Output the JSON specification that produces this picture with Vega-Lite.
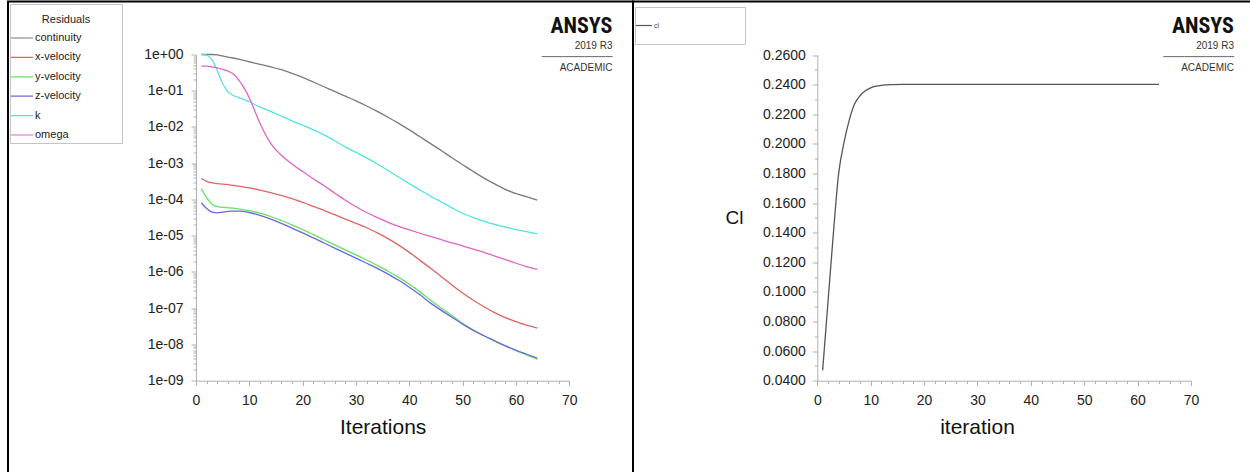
{
  "$schema": "https://vega.github.io/schema/vega-lite/v6.json",
  "autosize": {"type": "none"},
  "padding": {"left": 8, "top": 1.5, "right": 1242, "bottom": 470.5},
  "background": "white",
  "usermeta": {"embedOptions": {"actions": false}},
  "spacing": 0,
  "bounds": "flush",
  "resolve": {"scale": {"x": "independent", "y": "independent", "color": "independent"}, "legend": {"color": "independent"}, "axis": {"x": "independent", "y": "independent"}},
  "config": {
    "font": "Liberation Sans",
    "view": {"stroke": "black", "strokeWidth": 2},
    "axis": {"grid": false, "domainColor": "#b0b0b0", "tickColor": "#b0b0b0", "domainWidth": 1, "tickWidth": 1, "labelColor": "#222222", "labelFontSize": 14, "labelFont": "Liberation Sans", "titleFont": "Liberation Sans", "titleColor": "#111111", "titleFontWeight": "normal", "labelOverlap": false, "labelFlush": false, "labelBound": false},
    "legend": {"titleFont": "Liberation Sans", "labelFont": "Liberation Sans"},
    "title": {"anchor": "end", "frame": "group", "align": "right", "orient": "top", "offset": -72, "font": "Liberation Sans Narrow, Roboto Condensed, Liberation Sans", "fontSize": 22, "fontWeight": "bold", "color": "#111111", "subtitleFont": "Liberation Sans", "subtitleFontSize": 10, "subtitleLineHeight": 11, "subtitlePadding": 0, "subtitleColor": "#333333"}
  },
  "datasets": {
    "residuals": [
      {"iter": 1, "series": "continuity", "value": 1}, {"iter": 2, "series": "continuity", "value": 1}, {"iter": 3, "series": "continuity", "value": 1}, {"iter": 4, "series": "continuity", "value": 0.977}, {"iter": 5, "series": "continuity", "value": 0.912}, {"iter": 6, "series": "continuity", "value": 0.851}, {"iter": 8, "series": "continuity", "value": 0.741}, {"iter": 10, "series": "continuity", "value": 0.631}, {"iter": 12, "series": "continuity", "value": 0.537}, {"iter": 14, "series": "continuity", "value": 0.457}, {"iter": 16, "series": "continuity", "value": 0.38}, {"iter": 18, "series": "continuity", "value": 0.302}, {"iter": 20, "series": "continuity", "value": 0.234}, {"iter": 22, "series": "continuity", "value": 0.174}, {"iter": 24, "series": "continuity", "value": 0.129}, {"iter": 26, "series": "continuity", "value": 0.0955}, {"iter": 28, "series": "continuity", "value": 0.0708}, {"iter": 30, "series": "continuity", "value": 0.0525}, {"iter": 32, "series": "continuity", "value": 0.038}, {"iter": 34, "series": "continuity", "value": 0.0269}, {"iter": 36, "series": "continuity", "value": 0.0186}, {"iter": 38, "series": "continuity", "value": 0.0126}, {"iter": 40, "series": "continuity", "value": 0.00832}, {"iter": 42, "series": "continuity", "value": 0.00537}, {"iter": 44, "series": "continuity", "value": 0.00347}, {"iter": 46, "series": "continuity", "value": 0.00224}, {"iter": 48, "series": "continuity", "value": 0.00141}, {"iter": 50, "series": "continuity", "value": 9.12e-4}, {"iter": 52, "series": "continuity", "value": 5.89e-4}, {"iter": 54, "series": "continuity", "value": 3.89e-4}, {"iter": 56, "series": "continuity", "value": 2.69e-4}, {"iter": 58, "series": "continuity", "value": 1.91e-4}, {"iter": 60, "series": "continuity", "value": 1.45e-4}, {"iter": 62, "series": "continuity", "value": 1.2e-4}, {"iter": 64, "series": "continuity", "value": 9.55e-5},

      {"iter": 1, "series": "x-velocity", "value": 3.8e-4}, {"iter": 2, "series": "x-velocity", "value": 3.16e-4}, {"iter": 3, "series": "x-velocity", "value": 2.88e-4}, {"iter": 4, "series": "x-velocity", "value": 2.75e-4}, {"iter": 6, "series": "x-velocity", "value": 2.57e-4}, {"iter": 8, "series": "x-velocity", "value": 2.34e-4}, {"iter": 10, "series": "x-velocity", "value": 2.09e-4}, {"iter": 12, "series": "x-velocity", "value": 1.82e-4}, {"iter": 14, "series": "x-velocity", "value": 1.55e-4}, {"iter": 16, "series": "x-velocity", "value": 1.29e-4}, {"iter": 18, "series": "x-velocity", "value": 1.05e-4}, {"iter": 20, "series": "x-velocity", "value": 8.32e-5}, {"iter": 22, "series": "x-velocity", "value": 6.46e-5}, {"iter": 24, "series": "x-velocity", "value": 5.01e-5}, {"iter": 26, "series": "x-velocity", "value": 3.8e-5}, {"iter": 28, "series": "x-velocity", "value": 2.88e-5}, {"iter": 30, "series": "x-velocity", "value": 2.19e-5}, {"iter": 32, "series": "x-velocity", "value": 1.66e-5}, {"iter": 34, "series": "x-velocity", "value": 1.2e-5}, {"iter": 36, "series": "x-velocity", "value": 8.32e-6}, {"iter": 38, "series": "x-velocity", "value": 5.5e-6}, {"iter": 40, "series": "x-velocity", "value": 3.47e-6}, {"iter": 42, "series": "x-velocity", "value": 2.09e-6}, {"iter": 44, "series": "x-velocity", "value": 1.26e-6}, {"iter": 46, "series": "x-velocity", "value": 7.41e-7}, {"iter": 48, "series": "x-velocity", "value": 4.37e-7}, {"iter": 50, "series": "x-velocity", "value": 2.63e-7}, {"iter": 52, "series": "x-velocity", "value": 1.66e-7}, {"iter": 54, "series": "x-velocity", "value": 1.1e-7}, {"iter": 56, "series": "x-velocity", "value": 7.59e-8}, {"iter": 58, "series": "x-velocity", "value": 5.5e-8}, {"iter": 60, "series": "x-velocity", "value": 4.27e-8}, {"iter": 62, "series": "x-velocity", "value": 3.39e-8}, {"iter": 64, "series": "x-velocity", "value": 2.82e-8},

      {"iter": 1, "series": "y-velocity", "value": 2.0e-4}, {"iter": 2, "series": "y-velocity", "value": 1.12e-4}, {"iter": 3, "series": "y-velocity", "value": 7.41e-5}, {"iter": 4, "series": "y-velocity", "value": 6.31e-5}, {"iter": 5, "series": "y-velocity", "value": 6.03e-5}, {"iter": 6, "series": "y-velocity", "value": 5.89e-5}, {"iter": 7, "series": "y-velocity", "value": 5.75e-5}, {"iter": 8, "series": "y-velocity", "value": 5.5e-5}, {"iter": 10, "series": "y-velocity", "value": 4.9e-5}, {"iter": 12, "series": "y-velocity", "value": 4.17e-5}, {"iter": 14, "series": "y-velocity", "value": 3.39e-5}, {"iter": 16, "series": "y-velocity", "value": 2.63e-5}, {"iter": 18, "series": "y-velocity", "value": 2.0e-5}, {"iter": 20, "series": "y-velocity", "value": 1.48e-5}, {"iter": 22, "series": "y-velocity", "value": 1.07e-5}, {"iter": 24, "series": "y-velocity", "value": 7.76e-6}, {"iter": 26, "series": "y-velocity", "value": 5.62e-6}, {"iter": 28, "series": "y-velocity", "value": 4.07e-6}, {"iter": 30, "series": "y-velocity", "value": 2.95e-6}, {"iter": 32, "series": "y-velocity", "value": 2.14e-6}, {"iter": 34, "series": "y-velocity", "value": 1.51e-6}, {"iter": 36, "series": "y-velocity", "value": 1.05e-6}, {"iter": 38, "series": "y-velocity", "value": 7.08e-7}, {"iter": 40, "series": "y-velocity", "value": 4.57e-7}, {"iter": 42, "series": "y-velocity", "value": 2.82e-7}, {"iter": 44, "series": "y-velocity", "value": 1.66e-7}, {"iter": 46, "series": "y-velocity", "value": 1.0e-7}, {"iter": 48, "series": "y-velocity", "value": 6.31e-8}, {"iter": 50, "series": "y-velocity", "value": 3.8e-8}, {"iter": 52, "series": "y-velocity", "value": 2.51e-8}, {"iter": 54, "series": "y-velocity", "value": 1.74e-8}, {"iter": 56, "series": "y-velocity", "value": 1.26e-8}, {"iter": 58, "series": "y-velocity", "value": 9.12e-9}, {"iter": 60, "series": "y-velocity", "value": 6.76e-9}, {"iter": 62, "series": "y-velocity", "value": 5.13e-9}, {"iter": 64, "series": "y-velocity", "value": 3.89e-9},

      {"iter": 1, "series": "z-velocity", "value": 8.13e-5}, {"iter": 2, "series": "z-velocity", "value": 5.62e-5}, {"iter": 3, "series": "z-velocity", "value": 4.47e-5}, {"iter": 4, "series": "z-velocity", "value": 4.27e-5}, {"iter": 5, "series": "z-velocity", "value": 4.47e-5}, {"iter": 6, "series": "z-velocity", "value": 4.68e-5}, {"iter": 7, "series": "z-velocity", "value": 4.79e-5}, {"iter": 8, "series": "z-velocity", "value": 4.79e-5}, {"iter": 10, "series": "z-velocity", "value": 4.37e-5}, {"iter": 12, "series": "z-velocity", "value": 3.63e-5}, {"iter": 14, "series": "z-velocity", "value": 2.88e-5}, {"iter": 16, "series": "z-velocity", "value": 2.19e-5}, {"iter": 18, "series": "z-velocity", "value": 1.62e-5}, {"iter": 20, "series": "z-velocity", "value": 1.2e-5}, {"iter": 22, "series": "z-velocity", "value": 8.71e-6}, {"iter": 24, "series": "z-velocity", "value": 6.31e-6}, {"iter": 26, "series": "z-velocity", "value": 4.57e-6}, {"iter": 28, "series": "z-velocity", "value": 3.31e-6}, {"iter": 30, "series": "z-velocity", "value": 2.4e-6}, {"iter": 32, "series": "z-velocity", "value": 1.74e-6}, {"iter": 34, "series": "z-velocity", "value": 1.26e-6}, {"iter": 36, "series": "z-velocity", "value": 8.71e-7}, {"iter": 38, "series": "z-velocity", "value": 5.89e-7}, {"iter": 40, "series": "z-velocity", "value": 3.8e-7}, {"iter": 42, "series": "z-velocity", "value": 2.34e-7}, {"iter": 44, "series": "z-velocity", "value": 1.38e-7}, {"iter": 46, "series": "z-velocity", "value": 8.71e-8}, {"iter": 48, "series": "z-velocity", "value": 5.62e-8}, {"iter": 50, "series": "z-velocity", "value": 3.63e-8}, {"iter": 52, "series": "z-velocity", "value": 2.45e-8}, {"iter": 54, "series": "z-velocity", "value": 1.74e-8}, {"iter": 56, "series": "z-velocity", "value": 1.26e-8}, {"iter": 58, "series": "z-velocity", "value": 9.12e-9}, {"iter": 60, "series": "z-velocity", "value": 6.92e-9}, {"iter": 62, "series": "z-velocity", "value": 5.37e-9}, {"iter": 64, "series": "z-velocity", "value": 4.17e-9},

      {"iter": 1, "series": "k", "value": 1}, {"iter": 2, "series": "k", "value": 0.955}, {"iter": 3, "series": "k", "value": 0.708}, {"iter": 4, "series": "k", "value": 0.355}, {"iter": 5, "series": "k", "value": 0.158}, {"iter": 6, "series": "k", "value": 0.0933}, {"iter": 7, "series": "k", "value": 0.0741}, {"iter": 8, "series": "k", "value": 0.0646}, {"iter": 9, "series": "k", "value": 0.0575}, {"iter": 10, "series": "k", "value": 0.0501}, {"iter": 11, "series": "k", "value": 0.0417}, {"iter": 12, "series": "k", "value": 0.0355}, {"iter": 14, "series": "k", "value": 0.0269}, {"iter": 16, "series": "k", "value": 0.02}, {"iter": 18, "series": "k", "value": 0.0148}, {"iter": 20, "series": "k", "value": 0.0112}, {"iter": 22, "series": "k", "value": 0.00832}, {"iter": 24, "series": "k", "value": 0.00603}, {"iter": 26, "series": "k", "value": 0.00417}, {"iter": 28, "series": "k", "value": 0.00282}, {"iter": 30, "series": "k", "value": 0.002}, {"iter": 32, "series": "k", "value": 0.00141}, {"iter": 34, "series": "k", "value": 9.55e-4}, {"iter": 36, "series": "k", "value": 6.31e-4}, {"iter": 38, "series": "k", "value": 4.17e-4}, {"iter": 40, "series": "k", "value": 2.75e-4}, {"iter": 42, "series": "k", "value": 1.82e-4}, {"iter": 44, "series": "k", "value": 1.23e-4}, {"iter": 46, "series": "k", "value": 8.51e-5}, {"iter": 48, "series": "k", "value": 5.89e-5}, {"iter": 50, "series": "k", "value": 4.17e-5}, {"iter": 52, "series": "k", "value": 3.16e-5}, {"iter": 54, "series": "k", "value": 2.51e-5}, {"iter": 56, "series": "k", "value": 2.04e-5}, {"iter": 58, "series": "k", "value": 1.74e-5}, {"iter": 60, "series": "k", "value": 1.48e-5}, {"iter": 62, "series": "k", "value": 1.29e-5}, {"iter": 64, "series": "k", "value": 1.12e-5},

      {"iter": 1, "series": "omega", "value": 0.479}, {"iter": 2, "series": "omega", "value": 0.479}, {"iter": 3, "series": "omega", "value": 0.457}, {"iter": 4, "series": "omega", "value": 0.427}, {"iter": 5, "series": "omega", "value": 0.389}, {"iter": 6, "series": "omega", "value": 0.347}, {"iter": 7, "series": "omega", "value": 0.288}, {"iter": 8, "series": "omega", "value": 0.2}, {"iter": 9, "series": "omega", "value": 0.12}, {"iter": 10, "series": "omega", "value": 0.0631}, {"iter": 11, "series": "omega", "value": 0.0282}, {"iter": 12, "series": "omega", "value": 0.0126}, {"iter": 13, "series": "omega", "value": 0.00631}, {"iter": 14, "series": "omega", "value": 0.00355}, {"iter": 15, "series": "omega", "value": 0.00234}, {"iter": 16, "series": "omega", "value": 0.00166}, {"iter": 18, "series": "omega", "value": 9.55e-4}, {"iter": 20, "series": "omega", "value": 5.89e-4}, {"iter": 22, "series": "omega", "value": 3.72e-4}, {"iter": 24, "series": "omega", "value": 2.4e-4}, {"iter": 26, "series": "omega", "value": 1.51e-4}, {"iter": 28, "series": "omega", "value": 9.55e-5}, {"iter": 30, "series": "omega", "value": 6.31e-5}, {"iter": 32, "series": "omega", "value": 4.37e-5}, {"iter": 34, "series": "omega", "value": 3.16e-5}, {"iter": 36, "series": "omega", "value": 2.34e-5}, {"iter": 38, "series": "omega", "value": 1.82e-5}, {"iter": 40, "series": "omega", "value": 1.45e-5}, {"iter": 42, "series": "omega", "value": 1.17e-5}, {"iter": 44, "series": "omega", "value": 9.55e-6}, {"iter": 46, "series": "omega", "value": 7.76e-6}, {"iter": 48, "series": "omega", "value": 6.31e-6}, {"iter": 50, "series": "omega", "value": 5.25e-6}, {"iter": 52, "series": "omega", "value": 4.27e-6}, {"iter": 54, "series": "omega", "value": 3.47e-6}, {"iter": 56, "series": "omega", "value": 2.75e-6}, {"iter": 58, "series": "omega", "value": 2.19e-6}, {"iter": 60, "series": "omega", "value": 1.74e-6}, {"iter": 62, "series": "omega", "value": 1.41e-6}, {"iter": 64, "series": "omega", "value": 1.17e-6}
    ],
    "lift": [
      {"iter": 1, "series": "cl", "value": 0.047}, {"iter": 2, "series": "cl", "value": 0.093}, {"iter": 3, "series": "cl", "value": 0.139}, {"iter": 4, "series": "cl", "value": 0.18}, {"iter": 5, "series": "cl", "value": 0.2008}, {"iter": 6, "series": "cl", "value": 0.2162}, {"iter": 7, "series": "cl", "value": 0.227}, {"iter": 8, "series": "cl", "value": 0.2325}, {"iter": 9, "series": "cl", "value": 0.2358}, {"iter": 10, "series": "cl", "value": 0.2378}, {"iter": 11, "series": "cl", "value": 0.2389}, {"iter": 12, "series": "cl", "value": 0.2395}, {"iter": 13, "series": "cl", "value": 0.2398}, {"iter": 14, "series": "cl", "value": 0.24}, {"iter": 16, "series": "cl", "value": 0.2401}, {"iter": 20, "series": "cl", "value": 0.2401}, {"iter": 24, "series": "cl", "value": 0.2401}, {"iter": 28, "series": "cl", "value": 0.2401}, {"iter": 32, "series": "cl", "value": 0.2401}, {"iter": 36, "series": "cl", "value": 0.2401}, {"iter": 40, "series": "cl", "value": 0.2401}, {"iter": 44, "series": "cl", "value": 0.2401}, {"iter": 48, "series": "cl", "value": 0.2401}, {"iter": 52, "series": "cl", "value": 0.2401}, {"iter": 56, "series": "cl", "value": 0.2401}, {"iter": 60, "series": "cl", "value": 0.2401}, {"iter": 64, "series": "cl", "value": 0.2401}
    ]
  },
  "hconcat": [
    {
      "width": 625,
      "height": 480,
      "title": {"text": "ANSYS", "subtitle": ["2019 R3", "──────────", "ACADEMIC"], "dx": -20.5},
      "data": {"name": "residuals"},
      "mark": {"type": "line", "strokeWidth": 1.3, "interpolate": "monotone"},
      "encoding": {
        "x": {
          "field": "iter", "type": "quantitative",
          "scale": {"domain": [0, 70], "range": [188, 561.3], "nice": false, "zero": false},
          "axis": {
            "values": [0, 2, 4, 6, 8, 10, 12, 14, 16, 18, 20, 22, 24, 26, 28, 30, 32, 34, 36, 38, 40, 42, 44, 46, 48, 50, 52, 54, 56, 58, 60, 62, 64, 66, 68, 70],
            "format": "d",
            "labelExpr": "datum.value % 10 === 0 ? datum.label : ''",
            "tickSize": {"condition": {"test": "datum.value % 10 === 0", "value": 5}, "value": 3},
            "offset": -100.8,
            "labelPadding": 8,
            "title": "Iterations",
            "titleFontSize": 21,
            "titleY": 47,
            "titleBaseline": "middle"
          }
        },
        "y": {
          "field": "value", "type": "quantitative",
          "scale": {"type": "log", "domain": [1e-9, 1], "range": [379.2, 53], "nice": false},
          "axis": {
            "values": [1e-9, 2e-9, 3e-9, 4e-9, 5e-9, 6e-9, 7e-9, 8e-9, 9e-9, 1e-8, 2e-8, 3e-8, 4e-8, 5e-8, 6e-8, 7e-8, 8e-8, 9e-8, 1e-7, 2e-7, 3e-7, 4e-7, 5e-7, 6e-7, 7e-7, 8e-7, 9e-7, 1e-6, 2e-6, 3e-6, 4e-6, 5e-6, 6e-6, 7e-6, 8e-6, 9e-6, 1e-5, 2e-5, 3e-5, 4e-5, 5e-5, 6e-5, 7e-5, 8e-5, 9e-5, 1e-4, 2e-4, 3e-4, 4e-4, 5e-4, 6e-4, 7e-4, 8e-4, 9e-4, 1e-3, 2e-3, 3e-3, 4e-3, 5e-3, 6e-3, 7e-3, 8e-3, 9e-3, 0.01, 0.02, 0.03, 0.04, 0.05, 0.06, 0.07, 0.08, 0.09, 0.1, 0.2, 0.3, 0.4, 0.5, 0.6, 0.7, 0.8, 0.9, 1],
            "labelExpr": "abs(log(datum.value)/LN10 - round(log(datum.value)/LN10)) < 0.01 ? (datum.value > 0.5 ? '1e+00' : '1e-0' + (-round(log(datum.value)/LN10))) : ''",
            "tickSize": {"condition": {"test": "abs(log(datum.value)/LN10 - round(log(datum.value)/LN10)) < 0.01", "value": 5}, "value": 3},
            "offset": -188,
            "labelPadding": 8,
            "title": null
          }
        },
        "color": {
          "field": "series", "type": "nominal",
          "scale": {"domain": ["continuity", "x-velocity", "y-velocity", "z-velocity", "k", "omega"], "range": ["#7a7a7a", "#e06464", "#66e066", "#6868e0", "#55e2e2", "#e064c8"]},
          "legend": {
            "orient": "none", "legendX": 2, "legendY": 2.5,
            "title": "Residuals", "titleFontSize": 11, "titleFontWeight": "normal", "titleColor": "#222222", "titleAnchor": "middle", "titleBaseline": "line-top", "titleLineHeight": 31.6, "titlePadding": 15,
            "padding": 0, "strokeColor": "#c4c4c4", "fillColor": "white",
            "symbolType": "stroke", "symbolSize": 484, "symbolStrokeWidth": 1.2,
            "labelFontSize": 11, "labelColor": "#222222", "labelOffset": 1,
            "labelExpr": "datum.label + '\u2800\u2800\u2800\u2800\u2800'",
            "clipHeight": 16, "rowPadding": 3.4
          }
        }
      }
    },
    {
      "width": 625,
      "height": 480,
      "title": {"text": "ANSYS", "subtitle": ["2019 R3", "──────────", "ACADEMIC"], "dx": -24},
      "data": {"name": "lift"},
      "mark": {"type": "line", "strokeWidth": 1.3, "interpolate": "monotone"},
      "encoding": {
        "x": {
          "field": "iter", "type": "quantitative",
          "scale": {"domain": [0, 70], "range": [184.3, 558], "nice": false, "zero": false},
          "axis": {
            "values": [0, 2, 4, 6, 8, 10, 12, 14, 16, 18, 20, 22, 24, 26, 28, 30, 32, 34, 36, 38, 40, 42, 44, 46, 48, 50, 52, 54, 56, 58, 60, 62, 64, 66, 68, 70],
            "format": "d",
            "labelExpr": "datum.value % 10 === 0 ? datum.label : ''",
            "tickSize": {"condition": {"test": "datum.value % 10 === 0", "value": 5}, "value": 3},
            "offset": -100.8,
            "labelPadding": 8,
            "title": "iteration",
            "titleFontSize": 21,
            "titleX": 344,
            "titleY": 47,
            "titleBaseline": "middle"
          }
        },
        "y": {
          "field": "value", "type": "quantitative",
          "scale": {"domain": [0.04, 0.26], "range": [379.2, 53.5], "nice": false, "zero": false},
          "axis": {
            "values": [0.04, 0.05, 0.06, 0.07, 0.08, 0.09, 0.1, 0.11, 0.12, 0.13, 0.14, 0.15, 0.16, 0.17, 0.18, 0.19, 0.2, 0.21, 0.22, 0.23, 0.24, 0.25, 0.26],
            "labelExpr": "round(datum.value*100) % 2 === 0 ? format(datum.value, '.4f') : ''",
            "tickSize": {"condition": {"test": "round(datum.value*100) % 2 === 0", "value": 5}, "value": 3},
            "offset": -184.3,
            "labelPadding": 7,
            "title": "Cl",
            "titleAngle": 0,
            "titleFontSize": 19,
            "titleAlign": "center",
            "titleBaseline": "middle",
            "titleX": -83.3,
            "titleY": 216
          }
        },
        "color": {
          "field": "series", "type": "nominal",
          "scale": {"domain": ["cl"], "range": ["#555555"]},
          "legend": {
            "orient": "none", "legendX": 2, "legendY": 5.5,
            "title": null,
            "padding": 0, "strokeColor": "#c4c4c4", "fillColor": "white",
            "symbolType": "stroke", "symbolSize": 256, "symbolStrokeWidth": 1.2,
            "labelFontSize": 7, "labelColor": "#444444", "labelOffset": 1,
            "labelExpr": "datum.label + '\u2800\u2800\u2800\u2800\u2800\u2800\u2800\u2800\u2800\u2800\u2800\u2800\u2800\u2800\u2800\u2800\u2800'",
            "clipHeight": 37
          }
        }
      }
    }
  ]
}
